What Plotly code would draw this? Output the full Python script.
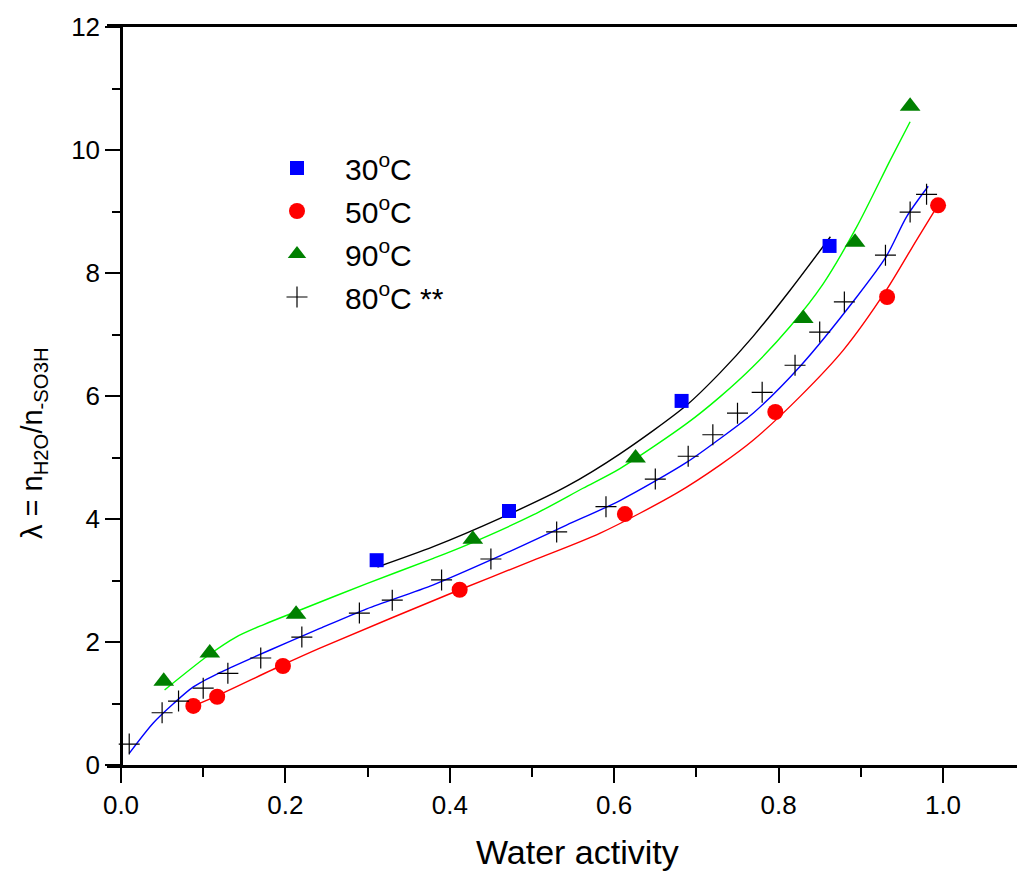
import plotly.graph_objects as go

# ---------------- data ----------------
x30 = [0.311, 0.472, 0.682, 0.862]
y30 = [3.33, 4.13, 5.92, 8.44]

x50 = [0.088, 0.117, 0.197, 0.412, 0.613, 0.796, 0.932, 0.994]
y50 = [0.96, 1.11, 1.61, 2.85, 4.08, 5.74, 7.61, 9.10]

x90 = [0.052, 0.108, 0.213, 0.428, 0.626, 0.830, 0.893, 0.960]
y90 = [1.36, 1.82, 2.45, 3.67, 4.99, 7.26, 8.50, 10.71]

x80 = [0.01, 0.05, 0.07, 0.10, 0.13, 0.17, 0.22, 0.29, 0.33, 0.39, 0.45, 0.53,
       0.59, 0.65, 0.69, 0.72, 0.75, 0.78, 0.82, 0.85, 0.88, 0.93, 0.96, 0.98]
y80 = [0.34, 0.85, 1.04, 1.25, 1.49, 1.74, 2.08, 2.47, 2.68, 3.01, 3.35, 3.79,
       4.20, 4.65, 5.02, 5.37, 5.72, 6.06, 6.50, 7.04, 7.53, 8.29, 8.99, 9.28]

# fitted curves
fit30_x = [0.312, 0.380, 0.461, 0.542, 0.607, 0.688, 0.729, 0.769, 0.814, 0.863]
fit30_y = [3.22, 3.55, 4.01, 4.53, 5.06, 5.85, 6.38, 6.97, 7.72, 8.59]

fit90_x = [0.053, 0.108, 0.140, 0.173, 0.218, 0.299, 0.380, 0.421, 0.502, 0.562,
           0.607, 0.688, 0.729, 0.769, 0.814, 0.854, 0.895, 0.936, 0.960]
fit90_y = [1.22, 1.80, 2.08, 2.28, 2.52, 2.95, 3.36, 3.58, 4.07, 4.50,
           4.82, 5.55, 5.99, 6.48, 7.13, 7.82, 8.75, 9.84, 10.46]

fit80_x = [0.010, 0.039, 0.064, 0.088, 0.120, 0.161, 0.202, 0.242, 0.299, 0.380,
           0.461, 0.542, 0.607, 0.688, 0.729, 0.769, 0.826, 0.895, 0.931, 0.956, 0.982]
fit80_y = [0.19, 0.68, 1.00, 1.27, 1.50, 1.75, 1.99, 2.22, 2.54, 2.93,
           3.40, 3.90, 4.30, 4.92, 5.31, 5.72, 6.48, 7.61, 8.27, 8.92, 9.41]

fit50_x = [0.088, 0.116, 0.197, 0.242, 0.412, 0.502, 0.583, 0.676, 0.729,
           0.769, 0.826, 0.879, 0.931, 0.968, 0.990]
fit50_y = [0.96, 1.12, 1.63, 1.90, 2.85, 3.33, 3.77, 4.42, 4.88,
           5.28, 5.99, 6.75, 7.72, 8.54, 9.02]

x_ticks = [0.0, 0.2, 0.4, 0.6, 0.8, 1.0]
x_ticklabels = ["0.0", "0.2", "0.4", "0.6", "0.8", "1.0"]
y_ticks = [0, 2, 4, 6, 8, 10, 12]
labels = ["30<sup>o</sup>C", "50<sup>o</sup>C", "90<sup>o</sup>C", "80<sup>o</sup>C **"]

FONT = "Arial, Liberation Sans, sans-serif"

fig = go.Figure()

# fit lines
for fx, fy, col in [(fit30_x, fit30_y, "#000000"), (fit90_x, fit90_y, "#00ff00"),
                    (fit80_x, fit80_y, "#0000ff"), (fit50_x, fit50_y, "#ff0000")]:
    fig.add_trace(go.Scatter(x=fx, y=fy, mode="lines", showlegend=False,
                             line=dict(color=col, width=1.4, shape="spline", smoothing=0.8)))

# data points
fig.add_trace(go.Scatter(x=x30, y=y30, mode="markers", name=labels[0], legendgroup="a",
                         marker=dict(symbol="square", size=14, color="#0000ff")))
fig.add_trace(go.Scatter(x=x50, y=y50, mode="markers", name=labels[1], legendgroup="b",
                         marker=dict(symbol="circle", size=16, color="#ff0000")))
fig.add_trace(go.Scatter(x=x90, y=y90, mode="markers", name=labels[2], legendgroup="c",
                         marker=dict(symbol="triangle-up", size=18, color="#008000")))
fig.add_trace(go.Scatter(x=x80, y=y80, mode="markers", name=labels[3], legendgroup="d",
                         marker=dict(symbol="cross-thin", size=15,
                                     line=dict(color="#000000", width=1.2))))

W, H = 1017, 871
L, R, T, B = 107, 0, 27, 106
x0_px = 121
px_per_unit = 822
plot_w = W - L - R
plot_h = H - T - B
xmin = -(x0_px - L) / px_per_unit
xmax = (W - R - x0_px) / px_per_unit

fig.update_layout(
    width=W, height=H,
    margin=dict(l=L, r=R, t=T, b=B, pad=0),
    paper_bgcolor="white", plot_bgcolor="white",
    font=dict(family=FONT, color="black"),
    showlegend=True,
    legend=dict(x=(249 - L) / plot_w, y=(765 - 142) / plot_h, xanchor="left", yanchor="top",
                font=dict(family=FONT, size=30, color="black"),
                bgcolor="rgba(0,0,0,0)", borderwidth=0, itemwidth=86,
                tracegroupgap=1),
    xaxis=dict(range=[xmin, xmax], tickvals=x_ticks, ticktext=x_ticklabels,
               showgrid=False, zeroline=False, showline=True, linewidth=2.5,
               linecolor="black", mirror=True, ticks="outside", ticklen=15,
               tickwidth=2, tickcolor="black",
               minor=dict(dtick=0.1, tick0=0, ticks="outside", ticklen=9,
                          tickwidth=2, tickcolor="black"),
               tickfont=dict(family=FONT, size=26)),
    yaxis=dict(range=[0, 12], tickvals=y_ticks, anchor="free",
               position=(x0_px - L) / plot_w,
               showgrid=False, zeroline=False, showline=True, linewidth=2.5,
               linecolor="black", ticks="outside", ticklen=15, tickwidth=2,
               tickcolor="black",
               minor=dict(dtick=1, tick0=0, ticks="outside", ticklen=8,
                          tickwidth=2, tickcolor="black"),
               tickfont=dict(family=FONT, size=26)),
    annotations=[
        dict(text="λ = n<sub>H2O</sub>/n<sub>-SO3H</sub>",
             xref="paper", yref="paper",
             x=(34 - L) / plot_w, y=(765 - 443) / plot_h,
             xanchor="center", yanchor="middle", textangle=-90,
             showarrow=False, font=dict(family=FONT, size=29, color="black")),
        dict(text="Water activity", xref="paper", yref="paper",
             x=(577 - L) / plot_w, y=(765 - 852) / plot_h,
             xanchor="center", yanchor="middle", showarrow=False,
             font=dict(family=FONT, size=34, color="black")),
    ],
)

fig.write_html("out.html")
